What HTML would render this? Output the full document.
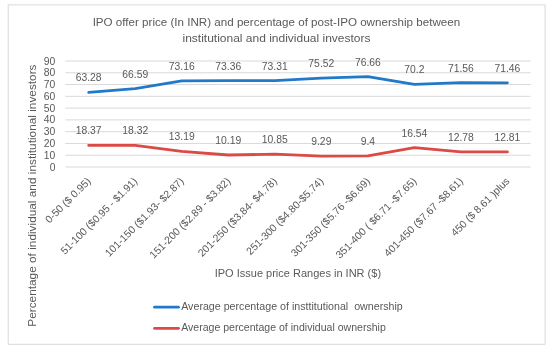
<!DOCTYPE html><html><head><meta charset="utf-8"><style>
html,body{margin:0;padding:0;background:#fff;width:550px;height:349px;overflow:hidden}
svg{display:block;filter:blur(0.35px)}
text{font-family:"Liberation Sans",sans-serif;fill:#595959;white-space:pre}
</style></head><body>
<svg width="550" height="349" viewBox="0 0 550 349">
<rect x="0" y="0" width="550" height="349" fill="#fff"/>
<rect x="8.2" y="4.9" width="536.9" height="339.4" fill="#fff" stroke="#d9d9d9" stroke-width="1"/>
<text x="276.40" y="26.00" font-size="11.8" text-anchor="middle" textLength="367.50" lengthAdjust="spacingAndGlyphs" xml:space="preserve">IPO offer price (In INR) and percentage of post-IPO ownership between</text>
<text x="276.50" y="41.70" font-size="11.8" text-anchor="middle" textLength="188.00" lengthAdjust="spacingAndGlyphs" xml:space="preserve">institutional and individual investors</text>
<line x1="65.4" x2="530.7" y1="167.00" y2="167.00" stroke="#d9d9d9" stroke-width="1"/>
<text x="55.40" y="170.60" font-size="10.5" text-anchor="end" textLength="5.76" lengthAdjust="spacingAndGlyphs" xml:space="preserve">0</text>
<line x1="65.4" x2="530.7" y1="155.22" y2="155.22" stroke="#d9d9d9" stroke-width="1"/>
<text x="55.40" y="158.82" font-size="10.5" text-anchor="end" textLength="11.53" lengthAdjust="spacingAndGlyphs" xml:space="preserve">10</text>
<line x1="65.4" x2="530.7" y1="143.44" y2="143.44" stroke="#d9d9d9" stroke-width="1"/>
<text x="55.40" y="147.04" font-size="10.5" text-anchor="end" textLength="11.53" lengthAdjust="spacingAndGlyphs" xml:space="preserve">20</text>
<line x1="65.4" x2="530.7" y1="131.67" y2="131.67" stroke="#d9d9d9" stroke-width="1"/>
<text x="55.40" y="135.27" font-size="10.5" text-anchor="end" textLength="11.53" lengthAdjust="spacingAndGlyphs" xml:space="preserve">30</text>
<line x1="65.4" x2="530.7" y1="119.89" y2="119.89" stroke="#d9d9d9" stroke-width="1"/>
<text x="55.40" y="123.49" font-size="10.5" text-anchor="end" textLength="11.53" lengthAdjust="spacingAndGlyphs" xml:space="preserve">40</text>
<line x1="65.4" x2="530.7" y1="108.11" y2="108.11" stroke="#d9d9d9" stroke-width="1"/>
<text x="55.40" y="111.71" font-size="10.5" text-anchor="end" textLength="11.53" lengthAdjust="spacingAndGlyphs" xml:space="preserve">50</text>
<line x1="65.4" x2="530.7" y1="96.33" y2="96.33" stroke="#d9d9d9" stroke-width="1"/>
<text x="55.40" y="99.93" font-size="10.5" text-anchor="end" textLength="11.53" lengthAdjust="spacingAndGlyphs" xml:space="preserve">60</text>
<line x1="65.4" x2="530.7" y1="84.56" y2="84.56" stroke="#d9d9d9" stroke-width="1"/>
<text x="55.40" y="88.16" font-size="10.5" text-anchor="end" textLength="11.53" lengthAdjust="spacingAndGlyphs" xml:space="preserve">70</text>
<line x1="65.4" x2="530.7" y1="72.78" y2="72.78" stroke="#d9d9d9" stroke-width="1"/>
<text x="55.40" y="76.38" font-size="10.5" text-anchor="end" textLength="11.53" lengthAdjust="spacingAndGlyphs" xml:space="preserve">80</text>
<line x1="65.4" x2="530.7" y1="61.00" y2="61.00" stroke="#d9d9d9" stroke-width="1"/>
<text x="55.40" y="64.60" font-size="10.5" text-anchor="end" textLength="11.53" lengthAdjust="spacingAndGlyphs" xml:space="preserve">90</text>
<polyline points="88.67,92.47 135.20,88.57 181.73,80.83 228.26,80.60 274.79,80.66 321.32,78.05 367.85,76.71 414.38,84.32 460.91,82.72 507.44,82.84" fill="none" stroke="#2279c9" stroke-width="2.8" stroke-linejoin="round" stroke-linecap="round"/>
<polyline points="88.67,145.36 135.20,145.42 181.73,151.47 228.26,155.00 274.79,154.22 321.32,156.06 367.85,155.93 414.38,147.52 460.91,151.95 507.44,151.91" fill="none" stroke="#dc4a45" stroke-width="2.8" stroke-linejoin="round" stroke-linecap="round"/>
<text x="88.67" y="81.47" font-size="10.5" text-anchor="middle" textLength="25.92" lengthAdjust="spacingAndGlyphs" xml:space="preserve">63.28</text>
<text x="135.20" y="77.57" font-size="10.5" text-anchor="middle" textLength="25.92" lengthAdjust="spacingAndGlyphs" xml:space="preserve">66.59</text>
<text x="181.73" y="69.83" font-size="10.5" text-anchor="middle" textLength="25.92" lengthAdjust="spacingAndGlyphs" xml:space="preserve">73.16</text>
<text x="228.26" y="69.60" font-size="10.5" text-anchor="middle" textLength="25.92" lengthAdjust="spacingAndGlyphs" xml:space="preserve">73.36</text>
<text x="274.79" y="69.66" font-size="10.5" text-anchor="middle" textLength="25.92" lengthAdjust="spacingAndGlyphs" xml:space="preserve">73.31</text>
<text x="321.32" y="67.05" font-size="10.5" text-anchor="middle" textLength="25.92" lengthAdjust="spacingAndGlyphs" xml:space="preserve">75.52</text>
<text x="367.85" y="65.71" font-size="10.5" text-anchor="middle" textLength="25.92" lengthAdjust="spacingAndGlyphs" xml:space="preserve">76.66</text>
<text x="414.38" y="73.32" font-size="10.5" text-anchor="middle" textLength="20.16" lengthAdjust="spacingAndGlyphs" xml:space="preserve">70.2</text>
<text x="460.91" y="71.72" font-size="10.5" text-anchor="middle" textLength="25.92" lengthAdjust="spacingAndGlyphs" xml:space="preserve">71.56</text>
<text x="507.44" y="71.84" font-size="10.5" text-anchor="middle" textLength="25.92" lengthAdjust="spacingAndGlyphs" xml:space="preserve">71.46</text>
<text x="88.67" y="134.36" font-size="10.5" text-anchor="middle" textLength="25.92" lengthAdjust="spacingAndGlyphs" xml:space="preserve">18.37</text>
<text x="135.20" y="134.42" font-size="10.5" text-anchor="middle" textLength="25.92" lengthAdjust="spacingAndGlyphs" xml:space="preserve">18.32</text>
<text x="181.73" y="140.47" font-size="10.5" text-anchor="middle" textLength="25.92" lengthAdjust="spacingAndGlyphs" xml:space="preserve">13.19</text>
<text x="228.26" y="144.00" font-size="10.5" text-anchor="middle" textLength="25.92" lengthAdjust="spacingAndGlyphs" xml:space="preserve">10.19</text>
<text x="274.79" y="143.22" font-size="10.5" text-anchor="middle" textLength="25.92" lengthAdjust="spacingAndGlyphs" xml:space="preserve">10.85</text>
<text x="321.32" y="145.06" font-size="10.5" text-anchor="middle" textLength="20.16" lengthAdjust="spacingAndGlyphs" xml:space="preserve">9.29</text>
<text x="367.85" y="144.93" font-size="10.5" text-anchor="middle" textLength="14.40" lengthAdjust="spacingAndGlyphs" xml:space="preserve">9.4</text>
<text x="414.38" y="136.52" font-size="10.5" text-anchor="middle" textLength="25.92" lengthAdjust="spacingAndGlyphs" xml:space="preserve">16.54</text>
<text x="460.91" y="140.95" font-size="10.5" text-anchor="middle" textLength="25.92" lengthAdjust="spacingAndGlyphs" xml:space="preserve">12.78</text>
<text x="507.44" y="140.91" font-size="10.5" text-anchor="middle" textLength="25.92" lengthAdjust="spacingAndGlyphs" xml:space="preserve">12.81</text>
<text x="91.52" y="181.85" font-size="10.5" text-anchor="end" textLength="59.40" lengthAdjust="spacingAndGlyphs" xml:space="preserve" transform="rotate(-45 91.52 181.85)">0-50 ($ 0.95)</text>
<text x="138.05" y="181.85" font-size="10.5" text-anchor="end" textLength="103.39" lengthAdjust="spacingAndGlyphs" xml:space="preserve" transform="rotate(-45 138.05 181.85)">51-100 ($0.95 - $1.91)</text>
<text x="184.58" y="181.85" font-size="10.5" text-anchor="end" textLength="106.62" lengthAdjust="spacingAndGlyphs" xml:space="preserve" transform="rotate(-45 184.58 181.85)">101-150 ($1.93- $2.87)</text>
<text x="231.11" y="181.85" font-size="10.5" text-anchor="end" textLength="109.22" lengthAdjust="spacingAndGlyphs" xml:space="preserve" transform="rotate(-45 231.11 181.85)">151-200 ($2.89 - $3.82)</text>
<text x="277.64" y="181.85" font-size="10.5" text-anchor="end" textLength="106.62" lengthAdjust="spacingAndGlyphs" xml:space="preserve" transform="rotate(-45 277.64 181.85)">201-250 ($3.84- $4.78)</text>
<text x="324.17" y="181.85" font-size="10.5" text-anchor="end" textLength="104.02" lengthAdjust="spacingAndGlyphs" xml:space="preserve" transform="rotate(-45 324.17 181.85)">251-300 ($4.80-$5.74)</text>
<text x="370.70" y="181.85" font-size="10.5" text-anchor="end" textLength="106.62" lengthAdjust="spacingAndGlyphs" xml:space="preserve" transform="rotate(-45 370.70 181.85)">301-350 ($5.76 -$6.69)</text>
<text x="417.23" y="181.85" font-size="10.5" text-anchor="end" textLength="109.22" lengthAdjust="spacingAndGlyphs" xml:space="preserve" transform="rotate(-45 417.23 181.85)">351-400 ( $6.71 -$7.65)</text>
<text x="463.76" y="181.85" font-size="10.5" text-anchor="end" textLength="106.62" lengthAdjust="spacingAndGlyphs" xml:space="preserve" transform="rotate(-45 463.76 181.85)">401-450 ($7.67 -$8.61)</text>
<text x="510.29" y="181.85" font-size="10.5" text-anchor="end" textLength="77.70" lengthAdjust="spacingAndGlyphs" xml:space="preserve" transform="rotate(-45 510.29 181.85)">450 ($ 8.61 )plus</text>
<text x="297.90" y="276.60" font-size="11.8" text-anchor="middle" textLength="166.40" lengthAdjust="spacingAndGlyphs" xml:space="preserve">IPO Issue price Ranges in INR ($)</text>
<text x="36.00" y="195.60" font-size="11.8" text-anchor="middle" textLength="262.20" lengthAdjust="spacingAndGlyphs" xml:space="preserve" transform="rotate(-90 36.0 195.6)">Percentage of individual and institutional investors</text>
<line x1="154.5" x2="178.5" y1="307.2" y2="307.2" stroke="#2279c9" stroke-width="2.8" stroke-linecap="round"/>
<line x1="154.5" x2="178.5" y1="328.3" y2="328.3" stroke="#dc4a45" stroke-width="2.8" stroke-linecap="round"/>
<text x="181.20" y="310.10" font-size="10.0" textLength="221.60" lengthAdjust="spacingAndGlyphs" xml:space="preserve">Average percentage of insttitutional  ownership</text>
<text x="181.20" y="331.20" font-size="10.0" textLength="204.60" lengthAdjust="spacingAndGlyphs" xml:space="preserve">Average percentage of individual ownership</text>
</svg></body></html>
